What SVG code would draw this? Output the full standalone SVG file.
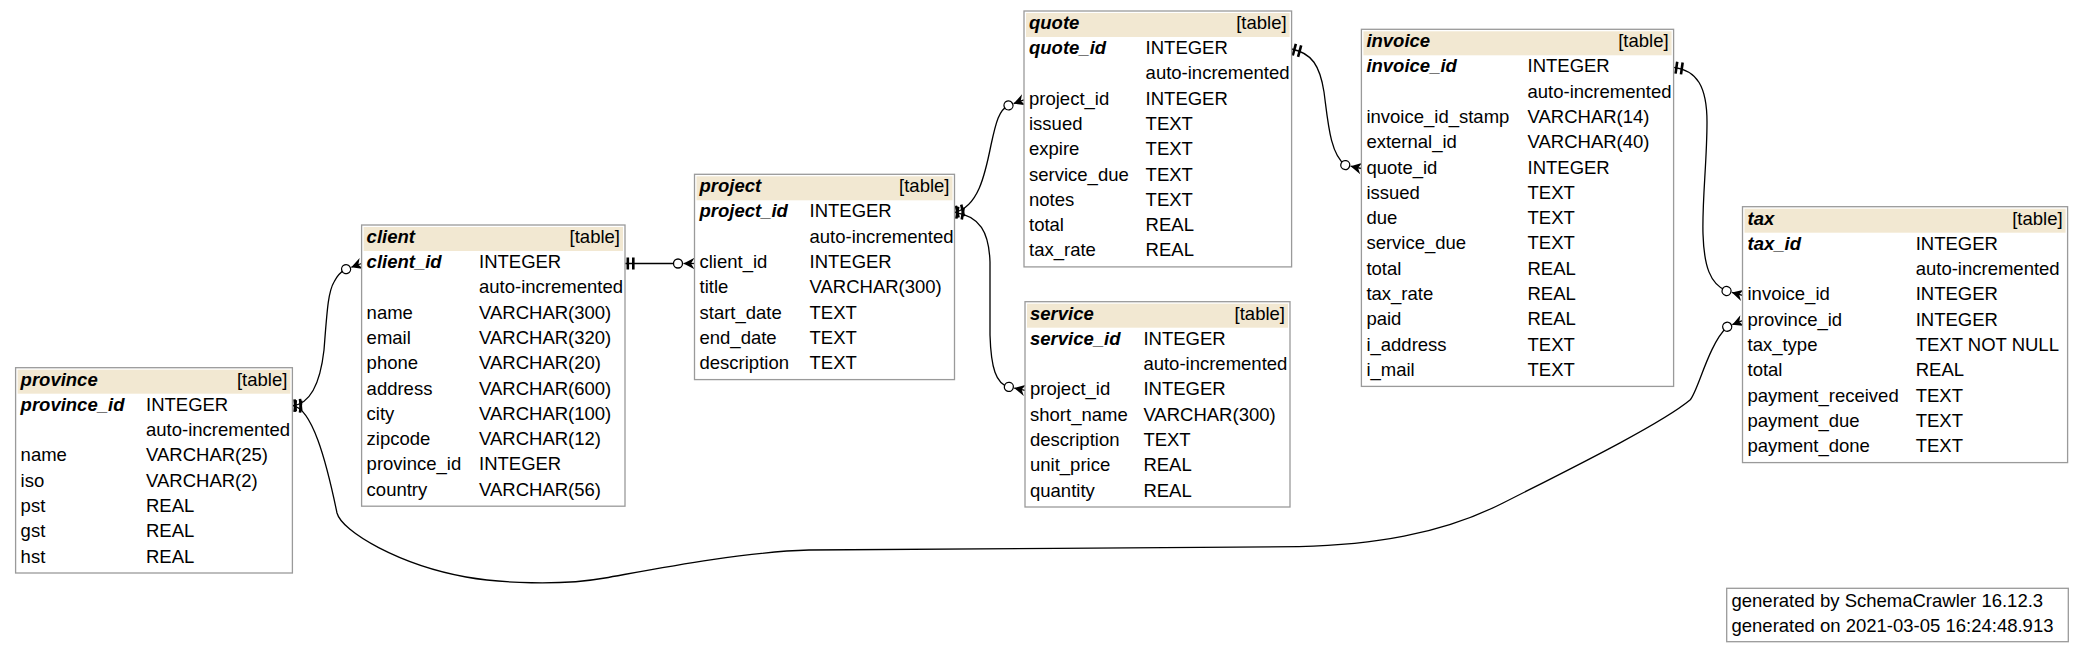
<svg xmlns="http://www.w3.org/2000/svg" width="2084" height="652" viewBox="0 0 2084 652">
<style>
text{font-family:"Liberation Sans",Arial,Helvetica,sans-serif;font-size:18.5px;fill:#000}
.b{font-weight:bold;font-style:italic}
.r{text-anchor:end}
.box{fill:#fff;stroke:#9a9a9a;stroke-width:1.3}
.hdr{fill:#F2E8D2}
.edge{fill:none;stroke:#000;stroke-width:1.3}
</style>
<defs>
<g id="crow"><polygon points="0,-5.8 -11,0 0,5.8 -3.5,0" fill="#000"/><line x1="-11" y1="0" x2="0" y2="0" stroke="#000" stroke-width="1.3"/><circle cx="-16.5" cy="0" r="4.5" fill="#fff" stroke="#000" stroke-width="1.3"/></g>
<g id="tee"><rect x="1.5" y="-6" width="2.6" height="12" fill="#000"/><rect x="7" y="-6" width="2.6" height="12" fill="#000"/></g>
</defs>
<rect width="2084" height="652" fill="#fff"/>

<g id="connectors">
<path class="edge" d="M625 263.5 L678 263.5"/>
<path class="edge" d="M292.4 405.7 C310 404 320 385 324 350 C327 312 328 292 334 282 C337 276 341 271.5 346.1 269.1"/>
<path class="edge" d="M292.4 405.7 C312 408 326 460 337 513 C342 532 400 565 466 577 C500 583 560 586 605 578 C650 570 740 552 809 550 C900 549 1200 548 1299 546.7 C1370 545 1440 535 1503 503 C1560 474 1660 425 1690 400 C1698 392 1708 345 1727.2 326.8"/>
<path class="edge" d="M954.5 212.3 C978 207 985 175 991 145 C996 122 999 110 1008.5 105.4"/>
<path class="edge" d="M954.5 212.3 C980 216 989 232 990 262 L990 335 C991 368 996 384 1008.9 386.9"/>
<path class="edge" d="M1291.6 49 C1312 53 1320 66 1324 92 C1328 122 1330 154 1345.3 165.1"/>
<path class="edge" d="M1673.6 67.3 C1697 70 1707 87 1707 122 C1707 162 1702 200 1703 234 C1704 266 1710 284 1726.6 291"/>
<use href="#tee" transform="translate(625,263.5)"/>
<use href="#tee" transform="translate(292.4,405.7) rotate(-6)"/>
<use href="#tee" transform="translate(292.4,405.7) rotate(6)"/>
<use href="#tee" transform="translate(954.5,212.3) rotate(-13)"/>
<use href="#tee" transform="translate(954.5,212.3) rotate(9)"/>
<use href="#tee" transform="translate(1291.6,49) rotate(15)"/>
<use href="#tee" transform="translate(1673.6,67.3) rotate(8)"/>
<use href="#crow" transform="translate(694.5,263.5)"/>
<use href="#crow" transform="translate(361.6,263.5) rotate(-20)"/>
<use href="#crow" transform="translate(1742.5,320.6) rotate(-22)"/>
<use href="#crow" transform="translate(1024,99.8) rotate(-20)"/>
<use href="#crow" transform="translate(1025,390.3) rotate(12)"/>
<use href="#crow" transform="translate(1361.4,168.5) rotate(12)"/>
<use href="#crow" transform="translate(1742.5,295.3) rotate(15)"/>
</g>

<g id="table-province">
<rect class="box" x="15.6" y="367.7" width="276.8" height="205.3"/>
<rect class="hdr" x="17.6" y="369.7" width="272.8" height="24"/>
<text class="b" x="20.6" y="385.7">province</text><text class="r" x="287.4" y="385.7">[table]</text>
<text class="b" x="20.6" y="410.7">province_id</text><text x="146" y="410.7">INTEGER</text>
<text x="146" y="436">auto-incremented</text>
<text x="20.6" y="461.3">name</text><text x="146" y="461.3">VARCHAR(25)</text>
<text x="20.6" y="486.6">iso</text><text x="146" y="486.6">VARCHAR(2)</text>
<text x="20.6" y="511.9">pst</text><text x="146" y="511.9">REAL</text>
<text x="20.6" y="537.2">gst</text><text x="146" y="537.2">REAL</text>
<text x="20.6" y="562.5">hst</text><text x="146" y="562.5">REAL</text>
</g>

<g id="table-client">
<rect class="box" x="361.6" y="225" width="263.4" height="281.2"/>
<rect class="hdr" x="363.6" y="227" width="259.4" height="24"/>
<text class="b" x="366.6" y="243">client</text><text class="r" x="620" y="243">[table]</text>
<text class="b" x="366.6" y="268">client_id</text><text x="479" y="268">INTEGER</text>
<text x="479" y="293.3">auto-incremented</text>
<text x="366.6" y="318.6">name</text><text x="479" y="318.6">VARCHAR(300)</text>
<text x="366.6" y="343.9">email</text><text x="479" y="343.9">VARCHAR(320)</text>
<text x="366.6" y="369.2">phone</text><text x="479" y="369.2">VARCHAR(20)</text>
<text x="366.6" y="394.5">address</text><text x="479" y="394.5">VARCHAR(600)</text>
<text x="366.6" y="419.8">city</text><text x="479" y="419.8">VARCHAR(100)</text>
<text x="366.6" y="445.1">zipcode</text><text x="479" y="445.1">VARCHAR(12)</text>
<text x="366.6" y="470.4">province_id</text><text x="479" y="470.4">INTEGER</text>
<text x="366.6" y="495.7">country</text><text x="479" y="495.7">VARCHAR(56)</text>
</g>

<g id="table-project">
<rect class="box" x="694.5" y="174.3" width="260" height="205.3"/>
<rect class="hdr" x="696.5" y="176.3" width="256" height="24"/>
<text class="b" x="699.5" y="192.3">project</text><text class="r" x="949.5" y="192.3">[table]</text>
<text class="b" x="699.5" y="217.3">project_id</text><text x="809.5" y="217.3">INTEGER</text>
<text x="809.5" y="242.6">auto-incremented</text>
<text x="699.5" y="267.9">client_id</text><text x="809.5" y="267.9">INTEGER</text>
<text x="699.5" y="293.2">title</text><text x="809.5" y="293.2">VARCHAR(300)</text>
<text x="699.5" y="318.5">start_date</text><text x="809.5" y="318.5">TEXT</text>
<text x="699.5" y="343.8">end_date</text><text x="809.5" y="343.8">TEXT</text>
<text x="699.5" y="369.1">description</text><text x="809.5" y="369.1">TEXT</text>
</g>

<g id="table-quote">
<rect class="box" x="1024" y="11" width="267.6" height="255.9"/>
<rect class="hdr" x="1026" y="13" width="263.6" height="24"/>
<text class="b" x="1029" y="29">quote</text><text class="r" x="1286.6" y="29">[table]</text>
<text class="b" x="1029" y="54">quote_id</text><text x="1145.6" y="54">INTEGER</text>
<text x="1145.6" y="79.3">auto-incremented</text>
<text x="1029" y="104.6">project_id</text><text x="1145.6" y="104.6">INTEGER</text>
<text x="1029" y="129.9">issued</text><text x="1145.6" y="129.9">TEXT</text>
<text x="1029" y="155.2">expire</text><text x="1145.6" y="155.2">TEXT</text>
<text x="1029" y="180.5">service_due</text><text x="1145.6" y="180.5">TEXT</text>
<text x="1029" y="205.8">notes</text><text x="1145.6" y="205.8">TEXT</text>
<text x="1029" y="231.1">total</text><text x="1145.6" y="231.1">REAL</text>
<text x="1029" y="256.4">tax_rate</text><text x="1145.6" y="256.4">REAL</text>
</g>

<g id="table-service">
<rect class="box" x="1025" y="301.7" width="265" height="205.3"/>
<rect class="hdr" x="1027" y="303.7" width="261" height="24"/>
<text class="b" x="1030" y="319.7">service</text><text class="r" x="1285" y="319.7">[table]</text>
<text class="b" x="1030" y="344.7">service_id</text><text x="1143.4" y="344.7">INTEGER</text>
<text x="1143.4" y="370">auto-incremented</text>
<text x="1030" y="395.3">project_id</text><text x="1143.4" y="395.3">INTEGER</text>
<text x="1030" y="420.6">short_name</text><text x="1143.4" y="420.6">VARCHAR(300)</text>
<text x="1030" y="445.9">description</text><text x="1143.4" y="445.9">TEXT</text>
<text x="1030" y="471.2">unit_price</text><text x="1143.4" y="471.2">REAL</text>
<text x="1030" y="496.5">quantity</text><text x="1143.4" y="496.5">REAL</text>
</g>

<g id="table-invoice">
<rect class="box" x="1361.4" y="29.3" width="312.2" height="357.1"/>
<rect class="hdr" x="1363.4" y="31.3" width="308.2" height="24"/>
<text class="b" x="1366.4" y="47.3">invoice</text><text class="r" x="1668.6" y="47.3">[table]</text>
<text class="b" x="1366.4" y="72.3">invoice_id</text><text x="1527.5" y="72.3">INTEGER</text>
<text x="1527.5" y="97.6">auto-incremented</text>
<text x="1366.4" y="122.9">invoice_id_stamp</text><text x="1527.5" y="122.9">VARCHAR(14)</text>
<text x="1366.4" y="148.2">external_id</text><text x="1527.5" y="148.2">VARCHAR(40)</text>
<text x="1366.4" y="173.5">quote_id</text><text x="1527.5" y="173.5">INTEGER</text>
<text x="1366.4" y="198.8">issued</text><text x="1527.5" y="198.8">TEXT</text>
<text x="1366.4" y="224.1">due</text><text x="1527.5" y="224.1">TEXT</text>
<text x="1366.4" y="249.4">service_due</text><text x="1527.5" y="249.4">TEXT</text>
<text x="1366.4" y="274.7">total</text><text x="1527.5" y="274.7">REAL</text>
<text x="1366.4" y="300">tax_rate</text><text x="1527.5" y="300">REAL</text>
<text x="1366.4" y="325.3">paid</text><text x="1527.5" y="325.3">REAL</text>
<text x="1366.4" y="350.6">i_address</text><text x="1527.5" y="350.6">TEXT</text>
<text x="1366.4" y="375.9">i_mail</text><text x="1527.5" y="375.9">TEXT</text>
</g>

<g id="table-tax">
<rect class="box" x="1742.5" y="206.7" width="325.1" height="255.9"/>
<rect class="hdr" x="1744.5" y="208.7" width="321.1" height="24"/>
<text class="b" x="1747.5" y="224.7">tax</text><text class="r" x="2062.6" y="224.7">[table]</text>
<text class="b" x="1747.5" y="249.7">tax_id</text><text x="1915.7" y="249.7">INTEGER</text>
<text x="1915.7" y="275">auto-incremented</text>
<text x="1747.5" y="300.3">invoice_id</text><text x="1915.7" y="300.3">INTEGER</text>
<text x="1747.5" y="325.6">province_id</text><text x="1915.7" y="325.6">INTEGER</text>
<text x="1747.5" y="350.9">tax_type</text><text x="1915.7" y="350.9">TEXT NOT NULL</text>
<text x="1747.5" y="376.2">total</text><text x="1915.7" y="376.2">REAL</text>
<text x="1747.5" y="401.5">payment_received</text><text x="1915.7" y="401.5">TEXT</text>
<text x="1747.5" y="426.8">payment_due</text><text x="1915.7" y="426.8">TEXT</text>
<text x="1747.5" y="452.1">payment_done</text><text x="1915.7" y="452.1">TEXT</text>
</g>

<g id="footer">
<rect class="box" x="1726.7" y="588.3" width="341.6" height="53.4"/>
<text x="1731.5" y="606.7">generated by SchemaCrawler 16.12.3</text>
<text x="1731.5" y="632.3">generated on 2021-03-05 16:24:48.913</text>
</g>
</svg>
